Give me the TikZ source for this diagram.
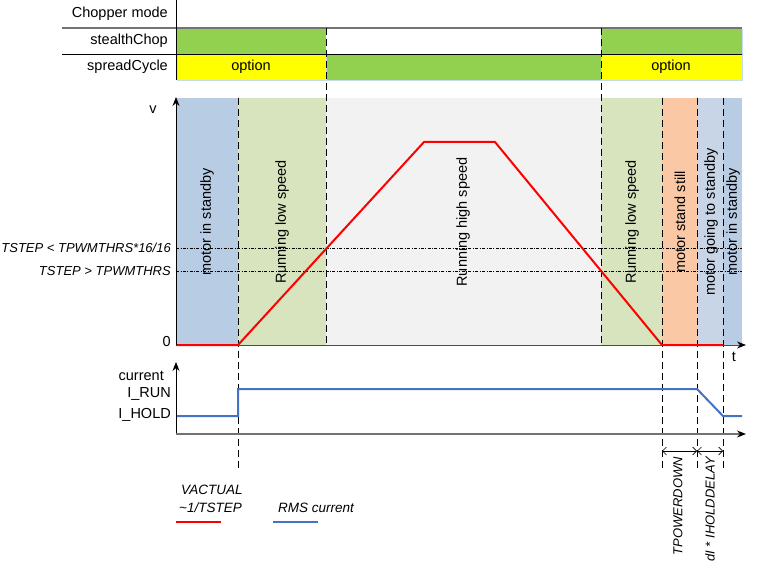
\documentclass[tikz,border=0pt]{standalone}
\usepackage{fontspec}
\setmainfont{Liberation Sans}
\usetikzlibrary{arrows.meta,positioning}
\definecolor{modeGreen}{HTML}{92D050}
\definecolor{modeYellow}{HTML}{FFFF00}
\definecolor{standbyBlue}{HTML}{B8CCE4}
\definecolor{lowGreen}{HTML}{D7E4BD}
\definecolor{highGray}{HTML}{F2F2F2}
\definecolor{stillOrange}{HTML}{FAC8A4}
\definecolor{goingBlue}{HTML}{C8D5E6}
\definecolor{curBlue}{HTML}{4472C4}
\definecolor{barEdge}{HTML}{C5D9F1}

\begin{document}
\begin{tikzpicture}[
  x=1pt, y=-1pt,
  >=Stealth,
  every node/.style={font=\fontsize{14.5}{16}\selectfont, inner sep=1pt},
  rowlabel/.style={anchor=east},
  modebar/.style={draw=barEdge, line width=0.6pt},
  phase/.style={rotate=90, font=\fontsize{14.5}{16}\selectfont},
  marker/.style={dash pattern=on 7pt off 4pt, line width=0.7pt},
  thresh/.style={dash pattern=on 3pt off 1.5pt on 0.8pt off 1.5pt, line width=0.5pt},
  vel/.style={red, line width=2pt},
  cur/.style={curBlue, line width=2pt},
  axis/.style={-{Stealth[length=9pt, width=7pt, black]}, line width=0.9pt},
  dim/.style={{Straight Barb[length=4pt]}-{Straight Barb[length=4pt]}, line width=0.6pt},
  note/.style={font=\fontsize{13}{15}\selectfont\itshape},
  legend/.style={font=\fontsize{13.5}{15}\selectfont\itshape, anchor=west}
]
\useasboundingbox (0,0) rectangle (781,572);

%% chopper mode table
\fill[modeGreen] (177,29) rectangle (326,54);
\fill[modeGreen] (601,29) rectangle (742,54);
\draw[modebar, fill=modeYellow] (177,54) rectangle (326,80);
\draw[modebar, fill=modeGreen] (326,54) rectangle (601,80);
\draw[modebar, fill=modeYellow] (601,54) rectangle (742,80);
\draw[barEdge, line width=0.6pt] (742,29) -- (742,54);
\node (optL) at (251,67) {option};
\node (optR) at (671,67) {option};
\draw[gray!90!black, line width=1.4pt] (62,28) -- (742,28);
\draw[line width=0.6pt] (62,54) -- (742,54);
\draw[line width=0.8pt] (176,0) -- (176,80);
\node[rowlabel] (hdr) at (169,14) {Chopper mode};
\node[rowlabel] (stealth) at (169,41) {stealthChop};
\node[rowlabel] (spread) at (169,67) {spreadCycle};

%% phase bands
\fill[standbyBlue] (176,98) rectangle (238,345);
\fill[lowGreen] (238,98) rectangle (326,345);
\fill[highGray] (326,98) rectangle (601,345);
\fill[lowGreen] (601,98) rectangle (662,345);
\fill[stillOrange] (662,98) rectangle (697,345);
\fill[goingBlue] (697,98) rectangle (723,345);
\fill[standbyBlue] (723,98) rectangle (742,345);

%% thresholds
\draw[thresh] (176,248) -- (742,248);
\draw[thresh] (176,271) -- (742,271);
\node[rowlabel, note] (thrHi) at (172,248) {TSTEP < TPWMTHRS*16/16};
\node[rowlabel, note] (thrLo) at (172,271) {TSTEP > TPWMTHRS};

%% phase labels
\node[phase] (standbyA) at (207,222) {motor in standby};
\node[phase] (lowA) at (282,222) {Running low speed};
\node[phase] (high) at (463,222) {Running high speed};
\node[phase] (lowB) at (632,222) {Running low speed};
\node[phase] (still) at (680,222) {motor stand still};
\node[phase] (going) at (711,222) {motor going to standby};
\node[phase] (standbyB) at (733,222) {motor in standby};

%% event markers
\foreach \mx/\ya/\yb in {238/98/468, 326/28/345, 601/28/345, 662/98/468, 697/98/468, 723/98/468}
  \draw[marker] (\mx,\ya) -- (\mx,\yb);

%% velocity
\coordinate (v0) at (176,345);
\coordinate (v1) at (238,345);
\coordinate (v2) at (424,142);
\coordinate (v3) at (495,142);
\coordinate (v4) at (662,345);
\coordinate (v5) at (723,345);
\draw[vel, line join=round] (v0) -- (v1) -- (v2) -- (v3) -- (v4) -- (v5);

%% velocity axes
\coordinate (vOrig) at (176,345);
\coordinate (vTop) at (176,97);
\coordinate (tEnd) at (746,345);
\draw[axis] (vOrig) -- (vTop);
\draw[axis, black!70] (vOrig) -- (tEnd);
\node (vLbl) at (153,110) {v};
\node[rowlabel] (zero) at (172,342) {0};
\node (tLbl) at (734,357) {t};

%% current
\coordinate (c0) at (176,416);
\coordinate (c1) at (238,416);
\coordinate (c2) at (238,389);
\coordinate (c3) at (697,389);
\coordinate (c4) at (723,416);
\coordinate (c5) at (742,416);
\draw[cur] (c0) -- (c1) -- (c2) -- (c3) -- (c4) -- (c5);
\coordinate (cOrig) at (176,434);
\coordinate (cTop) at (176,362);
\coordinate (cEnd) at (746,434);
\draw[axis] (cOrig) -- (cTop);
\draw[axis, black!55, line width=1.3pt] (cOrig) -- (cEnd);
\node[rowlabel] (curLbl) at (165,376) {current};
\node[rowlabel] (irun) at (172,394) {I\_RUN};
\node[rowlabel] (ihold) at (172,415) {I\_HOLD};

%% delays
\coordinate (dA) at (662,451);
\coordinate (dB) at (697,451);
\coordinate (dC) at (723,451);
\draw[dim] (dA) -- (dB);
\draw[dim] (dB) -- (dC);
\node[note, rotate=90, anchor=east] (tpd) at (678,456) {TPOWERDOWN};
\node[note, rotate=90, anchor=east] (ihd) at (710,456) {dI * IHOLDDELAY};

%% legend
\node[legend] (vact) at (180,490) {VACTUAL};
\node[legend] (tstep) at (178,508) {\textasciitilde1/TSTEP};
\draw[vel] (176,522) -- (221,522);
\node[legend] (rms) at (277,508) {RMS current};
\draw[cur] (273,522) -- (318,522);
\end{tikzpicture}
\end{document}
